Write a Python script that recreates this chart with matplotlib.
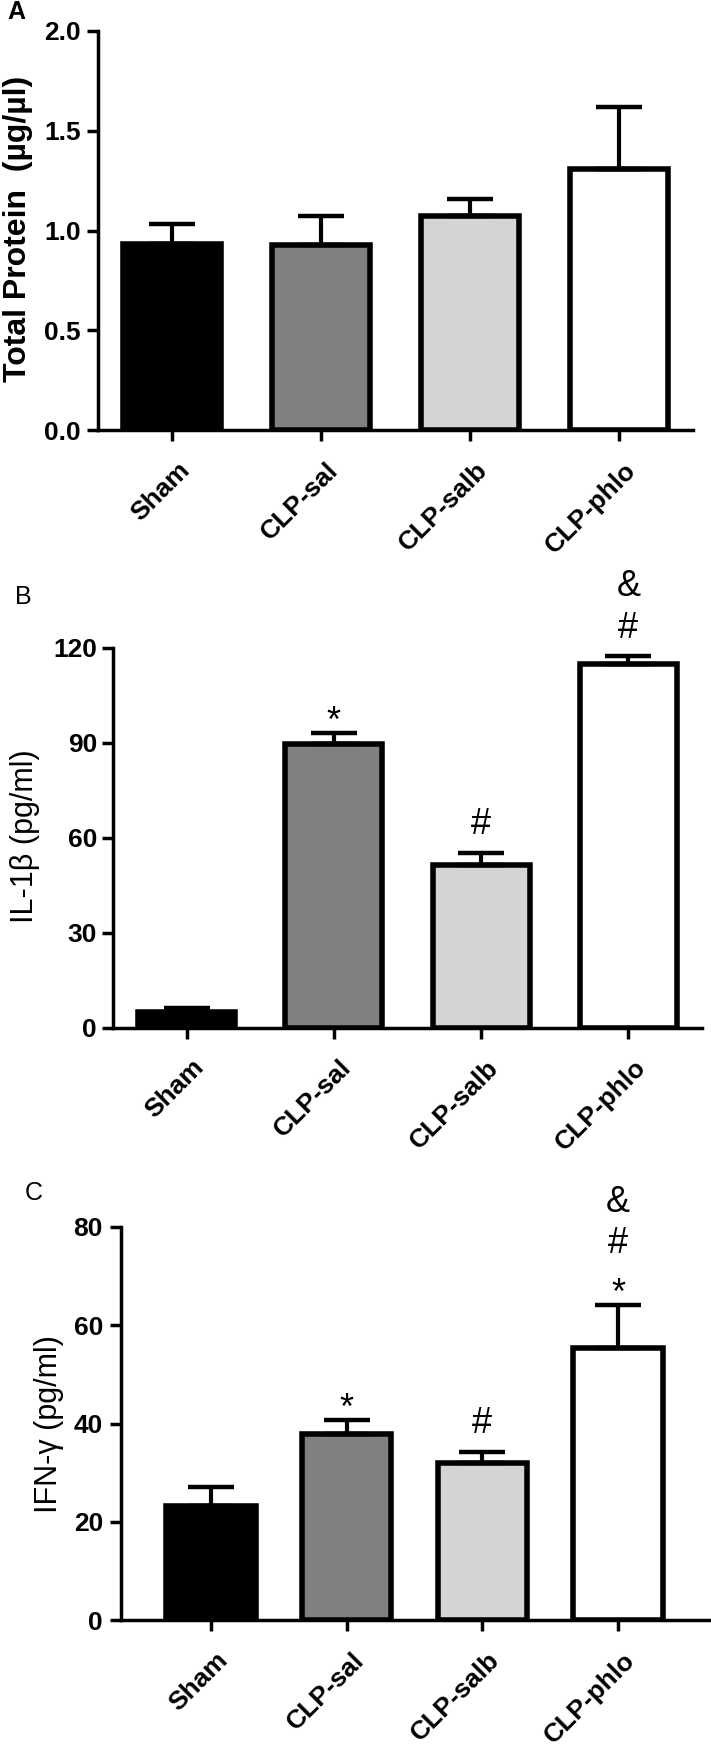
import matplotlib
matplotlib.use('Agg')
import matplotlib.pyplot as plt
import matplotlib.transforms as mtransforms
import numpy as np

plt.rcParams['font.family'] = ['Liberation Sans', 'DejaVu Sans']

# ---------------- data ----------------
groups = ['Sham', 'CLP-sal', 'CLP-salb', 'CLP-phlo']
bar_colors = ['#000000', '#808080', '#d4d4d4', '#ffffff']

protein_mean = [0.93, 0.925, 1.075, 1.31]
protein_sem = [0.105, 0.15, 0.085, 0.31]
protein_ticks = [0.0, 0.5, 1.0, 1.5, 2.0]

il1b_mean = [5.0, 89.6, 51.4, 114.8]
il1b_sem = [1.2, 3.4, 3.9, 2.7]
il1b_ticks = [0, 30, 60, 90, 120]
il1b_marks = [[], ['*'], ['#'], ['#', '&']]

ifng_mean = [23.3, 37.8, 32.0, 55.3]
ifng_sem = [3.7, 2.9, 2.3, 8.9]
ifng_ticks = [0, 20, 40, 60, 80]
ifng_marks = [[], ['*'], ['#'], ['*', '#', '&']]

# ---------------- layout ----------------
W, H = 711, 1747
fig = plt.figure(figsize=(W / 100, H / 100), dpi=100)


def px_axes(left, right, top, bottom):
    return fig.add_axes([left / W, 1 - bottom / H, (right - left) / W, (bottom - top) / H])


# glyph vertical centre above baseline (fraction of font size)
GLYPH_CENTER = {'*': 0.58, '#': 0.35, '&': 0.36}
MARK_SIZE = 26


def draw_panel(ax, means, sems, ticks, fmt, xlim, marks=None, ypad=4.5):
    x = np.arange(len(groups))
    ax.bar(x, means, width=0.66, color=bar_colors, edgecolor='black',
           linewidth=4, zorder=2)
    ax.errorbar(x, means, yerr=[np.zeros(len(means)), sems], fmt='none',
                ecolor='black', elinewidth=3, capsize=16.5, capthick=3.2, zorder=3)
    ax.set_xlim(*xlim)
    ax.set_ylim(ticks[0], ticks[-1])
    ax.set_yticks(ticks)
    ax.set_yticklabels([fmt.format(t) for t in ticks])
    ax.set_xticks(x)
    ax.set_xticklabels(groups, rotation=45, ha='right', va='top',
                       rotation_mode='anchor')
    for s in ['top', 'right']:
        ax.spines[s].set_visible(False)
    for s in ['left', 'bottom']:
        ax.spines[s].set_linewidth(2.5)
    ax.tick_params(axis='both', length=8, width=2.5, labelsize=19, direction='out')
    ax.tick_params(axis='y', pad=ypad)
    ax.tick_params(axis='x', pad=12)
    for lab in ax.get_xticklabels() + ax.get_yticklabels():
        lab.set_fontweight('bold')
    offset = mtransforms.ScaledTranslation(5 / 100, 0, fig.dpi_scale_trans)
    for lab in ax.get_xticklabels():
        lab.set_transform(lab.get_transform() + offset)
    if marks:
        for i, syms in enumerate(marks):
            top = means[i] + sems[i]
            centre_px = None
            for s in syms:
                if centre_px is None:
                    centre_px = 22 if s == '*' else 31
                else:
                    centre_px += 42
                dy_pt = centre_px * 0.72 - GLYPH_CENTER[s] * MARK_SIZE
                ax.annotate(s, xy=(i, top), xycoords='data', xytext=(0, dy_pt),
                            textcoords='offset points', ha='center', va='baseline',
                            fontsize=MARK_SIZE, annotation_clip=False)


axA = px_axes(98, 693, 31, 430)
draw_panel(axA, protein_mean, protein_sem, protein_ticks, '{:.1f}', (-0.5, 3.5), ypad=4.3)

axB = px_axes(113, 702, 648, 1027.5)
draw_panel(axB, il1b_mean, il1b_sem, il1b_ticks, '{:d}', (-0.5, 3.5), il1b_marks, ypad=3.5)

axC = px_axes(121, 711, 1227, 1620)
draw_panel(axC, ifng_mean, ifng_sem, ifng_ticks, '{:d}', (-0.663, 3.685), ifng_marks, ypad=5)

# axis titles
fig.text(18 / W, 1 - 229 / H, 'Total Protein  (µg/µl)', rotation=90, ha='center',
         va='center', fontsize=23, fontweight='bold')
fig.text(25 / W, 1 - 836 / H, 'IL-1β (pg/ml)', rotation=90, ha='center',
         va='center', fontsize=22)
fig.text(49 / W, 1 - 1424 / H, 'IFN-γ (pg/ml)', rotation=90, ha='center',
         va='center', fontsize=22)

# panel letters
fig.text(16 / W, 1 - 12 / H, 'A', ha='center', va='center', fontsize=18, fontweight='bold')
fig.text(23 / W, 1 - 597 / H, 'B', ha='center', va='center', fontsize=18)
fig.text(34 / W, 1 - 1193 / H, 'C', ha='center', va='center', fontsize=18)

fig.savefig('out.png', dpi=100, facecolor='white')
